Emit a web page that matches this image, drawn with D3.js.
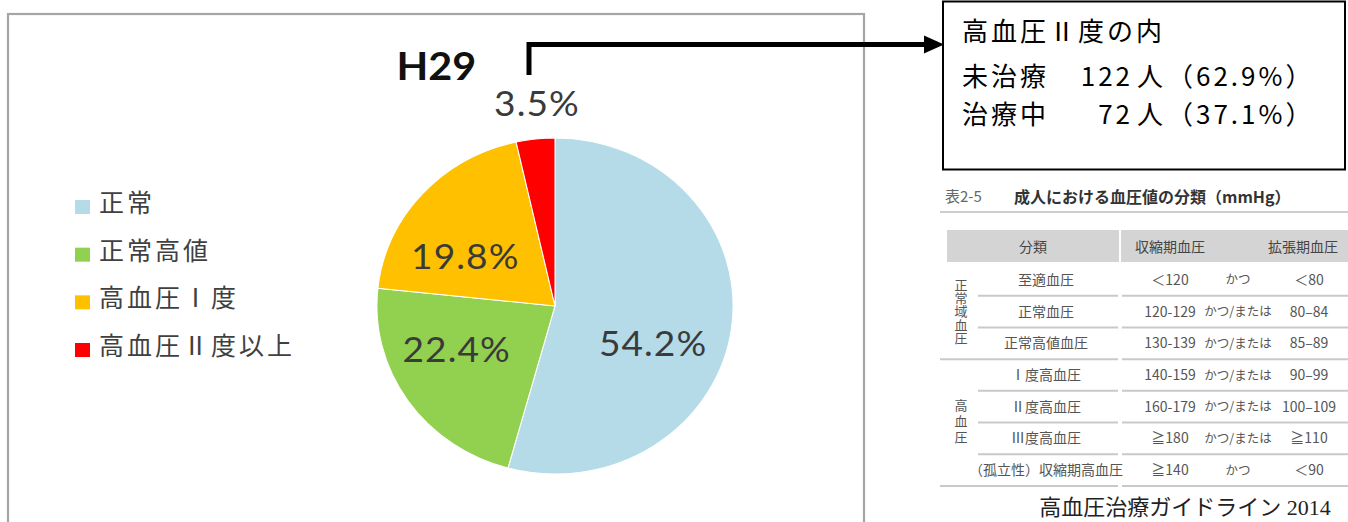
<!DOCTYPE html>
<html lang="ja">
<head>
<meta charset="utf-8">
<script src="https://cdn.jsdelivr.net/npm/d3@7"></script>
<style>
  html, body { margin: 0; padding: 0; background: #fff; }
  svg { display: block; }
</style>
</head>
<body>
<svg id="chart" width="1348" height="522"></svg>
<script>
// ---- pie data (H29) ----
const title = "H29";
const categories = ["正常", "正常高値", "高血圧Ⅰ度", "高血圧Ⅱ度以上"];
const shares = [54.2, 22.4, 19.8, 3.5];

// ---- breakdown of the top category ----
const breakdownHeading = "高血圧Ⅱ度の内";
const breakdownLabels = ["未治療", "治療中"];
const breakdownCounts = [122, 72];
const breakdownShares = [62.9, 37.1];

// ---- reference table: 成人における血圧値の分類 ----
const tableNo = "表2-5";
const tableTitle = "成人における血圧値の分類（mmHg）";
const tableHeaders = ["分類", "収縮期血圧", "拡張期血圧"];
const groupNames = ["正常域血圧", "高血圧"];
const groupSizes = [3, 4];
const rowLabels = ["至適血圧", "正常血圧", "正常高値血圧", "Ⅰ度高血圧", "Ⅱ度高血圧", "Ⅲ度高血圧", "（孤立性）収縮期高血圧"];
const systolic = ["＜120", "120-129", "130-139", "140-159", "160-179", "≧180", "≧140"];
const conjunctions = ["かつ", "かつ/または", "かつ/または", "かつ/または", "かつ/または", "かつ/または", "かつ"];
const diastolic = ["＜80", "80–84", "85–89", "90–99", "100–109", "≧110", "＜90"];
const sourceNote = "高血圧治療ガイドライン 2014";

const svg = d3.select("#chart");
const JP = "'Noto Sans CJK JP', 'Noto Sans', sans-serif";

// ---- chart frame ----
svg.append("rect")
  .attr("x", 8).attr("y", 14).attr("width", 856).attr("height", 530)
  .attr("fill", "#fff").attr("stroke", "#a5a5a5").attr("stroke-width", 2.2);

// ---- pie ----
const color = d3.scaleOrdinal()
  .domain(categories)
  .range(["#b4dbe7", "#92d050", "#ffc000", "#ff0000"]);

const radius = 168;
const stretch = 1.06;
const pieG = svg.append("g")
  .attr("transform", `translate(555,306) scale(${stretch},1)`);

const arcs = d3.pie().sort(null).value(d => d)(shares);
const arc = d3.arc().innerRadius(0).outerRadius(radius);

pieG.selectAll("path.slice")
  .data(arcs)
  .join("path")
  .attr("class", "slice")
  .attr("d", arc)
  .attr("fill", (d, i) => color(categories[i]))
  .attr("stroke", "#fff")
  .attr("stroke-width", 1);

// label placement: inside at r=100, the smallest slice outside the rim
const inner = d3.arc().innerRadius(100).outerRadius(100);
const outer = d3.arc().innerRadius(204).outerRadius(204);
const labelShift = [[-6.6, 23.8], [-10.2, -12.8], [-10, 17.2], [5.4, 0]];
pieG.selectAll("text.pct")
  .data(arcs)
  .join("text")
  .attr("class", "pct")
  .attr("transform", (d, i) => {
    const c = (d.data < 5 ? outer : inner).centroid(d);
    return `translate(${c[0] + labelShift[i][0]},${c[1] + labelShift[i][1]})`;
  })
  .attr("text-anchor", "middle")
  .attr("dy", "0.36em")
  .attr("font-family", "Lato, 'Open Sans', sans-serif")
  .attr("font-size", 35)
  .attr("letter-spacing", 1)
  .attr("fill", "#3a3a3a")
  .text(d => d.data.toFixed(1) + "%");

pieG.append("text")
  .attr("x", -112).attr("y", -226)
  .attr("text-anchor", "middle")
  .attr("font-family", "Lato, 'Open Sans', sans-serif")
  .attr("font-weight", 700)
  .attr("font-size", 39)
  .attr("fill", "#111")
  .text(title);

// ---- legend ----
const legendY = d3.scalePoint().domain(categories).range([203, 346]);
const legend = svg.append("g").selectAll("g")
  .data(categories)
  .join("g")
  .attr("transform", d => `translate(0,${legendY(d)})`);
legend.append("rect")
  .attr("x", 75).attr("y", -3).attr("width", 15).attr("height", 14)
  .attr("fill", d => color(d));
legend.append("text")
  .attr("x", 99).attr("y", 0)
  .attr("dy", "0.36em")
  .attr("font-family", JP)
  .attr("font-size", 25)
  .attr("letter-spacing", 3)
  .attr("fill", "#404040")
  .text(d => d);

// ---- call-out arrow from the smallest slice to the breakdown box ----
svg.append("path")
  .attr("d", "M529,75 V44.5 H928")
  .attr("fill", "none")
  .attr("stroke", "#000")
  .attr("stroke-width", 5)
  .attr("stroke-linejoin", "miter");
svg.append("path")
  .attr("d", "M924,35.5 L944,44.5 L924,53.5 Z")
  .attr("fill", "#000");

// ---- breakdown box ----
svg.append("rect")
  .attr("x", 943).attr("y", 1.5).attr("width", 402).attr("height", 168)
  .attr("fill", "#fff").attr("stroke", "#000").attr("stroke-width", 2);

const boxText = (x, y, t, anchor) => svg.append("text")
  .attr("x", x).attr("y", y).attr("dy", "0.36em")
  .attr("text-anchor", anchor || "start")
  .attr("font-family", JP)
  .attr("font-size", 26)
  .attr("letter-spacing", 3)
  .attr("fill", "#000")
  .text(t);

boxText(962, 32, breakdownHeading);
const lineY = [77, 115];
breakdownLabels.forEach((lab, i) => {
  boxText(962, lineY[i], lab);
  boxText(1133, lineY[i], String(breakdownCounts[i]), "end");
  boxText(1137, lineY[i], "人");
  boxText(1167, lineY[i], "（" + breakdownShares[i].toFixed(1) + "%）");
});

// ---- blood pressure classification table ----
const tbl = svg.append("g").attr("font-family", JP);

tbl.append("text")
  .attr("x", 945).attr("y", 197).attr("dy", "0.36em")
  .attr("font-size", 15).attr("fill", "#666")
  .text(tableNo);
tbl.append("text")
  .attr("x", 1014).attr("y", 197).attr("dy", "0.36em")
  .attr("font-size", 16).attr("font-weight", 700).attr("fill", "#333")
  .text(tableTitle);
tbl.append("line")
  .attr("x1", 940).attr("x2", 1348).attr("y1", 212).attr("y2", 212)
  .attr("stroke", "#9a9a9a").attr("stroke-width", 1);

// header band
tbl.append("rect")
  .attr("x", 947).attr("y", 230).attr("width", 401).attr("height", 32)
  .attr("fill", "#d4d4d4");
tbl.append("rect")
  .attr("x", 1119).attr("y", 230).attr("width", 2).attr("height", 32)
  .attr("fill", "#fff");
const headerX = [1033, 1170, 1303];
tableHeaders.forEach((h, i) => {
  tbl.append("text")
    .attr("x", headerX[i]).attr("y", 247).attr("dy", "0.36em")
    .attr("text-anchor", "middle")
    .attr("font-size", 14).attr("fill", "#444")
    .text(h);
});

// rows
const rowY = d3.scaleBand().domain(d3.range(rowLabels.length)).range([264, 486]);
const colX = { label: 1046, sys: 1170, conj: 1238, dia: 1309 };
const rows = tbl.selectAll("g.row")
  .data(rowLabels)
  .join("g")
  .attr("class", "row")
  .attr("transform", (d, i) => `translate(0,${rowY(i) + rowY.bandwidth() / 2})`);
const cell = (x, fn) => rows.append("text")
  .attr("x", x).attr("dy", "0.36em")
  .attr("text-anchor", "middle")
  .attr("font-size", 14).attr("fill", "#555")
  .text(fn);
cell(colX.label, d => d);
cell(colX.sys, (d, i) => systolic[i]);
cell(colX.conj, (d, i) => conjunctions[i]).attr("font-size", 12.5);
cell(colX.dia, (d, i) => diastolic[i]);

// row separators (full width at group ends, indented within a group)
const groupEnds = d3.cumsum(groupSizes);
rowLabels.forEach((d, i) => {
  const y = rowY(i) + rowY.bandwidth();
  const full = groupEnds.includes(i + 1);
  tbl.append("line")
    .attr("x1", full ? 940 : 978).attr("x2", 1118)
    .attr("y1", y).attr("y2", y)
    .attr("stroke", "#c9c9c9").attr("stroke-width", 2);
  tbl.append("line")
    .attr("x1", 1122).attr("x2", 1348)
    .attr("y1", y).attr("y2", y)
    .attr("stroke", "#c9c9c9").attr("stroke-width", 2);
});

// vertical group captions, written top-to-bottom
groupNames.forEach((name, g) => {
  const first = g === 0 ? 0 : groupEnds[g - 1];
  const top = rowY(first);
  const bottom = rowY(groupEnds[g] - 1) + rowY.bandwidth();
  const n = Array.from(name).length;
  const step = Math.min(16, (bottom - top - 30) / n);
  const size = Math.min(13, step);
  tbl.append("text")
    .attr("x", 961)
    .attr("y", (top + bottom) / 2)
    .attr("writing-mode", "vertical-rl")
    .attr("text-anchor", "middle")
    .attr("font-size", size)
    .attr("letter-spacing", step - size)
    .attr("fill", "#555")
    .text(name);
});

// source
svg.append("text")
  .attr("x", 1185).attr("y", 507).attr("dy", "0.36em")
  .attr("text-anchor", "middle")
  .attr("font-family", "'Liberation Serif', 'Noto Sans CJK JP', serif")
  .attr("font-size", 22)
  .attr("fill", "#222")
  .text(sourceNote);
</script>
</body>
</html>
